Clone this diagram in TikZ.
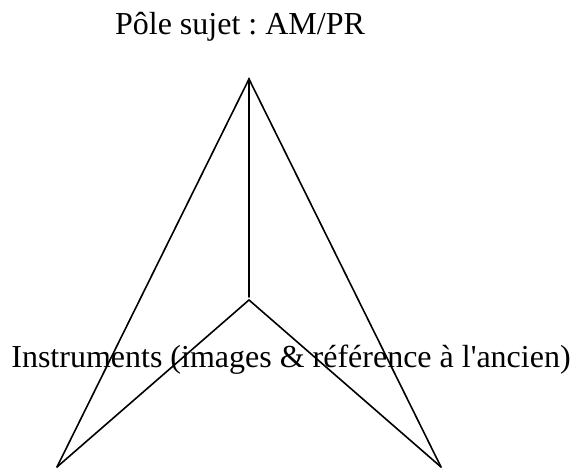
\documentclass[tikz,border=0pt]{standalone}
\usepackage{fontspec}
\setmainfont{Liberation Serif}
\frenchspacing
\begin{document}
\begin{tikzpicture}[x=1pt,y=-1pt,
  edge/.style={line width=1.6pt, line cap=round, line join=miter},
  lbl/.style={inner sep=0pt, anchor=base, font=\fontsize{32}{38}\selectfont}]
\useasboundingbox (0,0) rectangle (574,468);
\coordinate (apex) at (249,79);
\coordinate (stem) at (249,297);
\coordinate (center) at (249,300);
\coordinate (bl) at (57,467);
\coordinate (br) at (441,467);
\node[lbl] (pole) at (240,35) {Pôle sujet : AM/PR};
\node[lbl] (instr) at (291,367) {Instruments (images \& référence à l\textquotesingle ancien)};
\draw[edge] (bl) -- (apex) -- (br);
\draw[edge] (apex) -- (stem);
\draw[edge] (bl) -- (center) -- (br);
\end{tikzpicture}
\end{document}
